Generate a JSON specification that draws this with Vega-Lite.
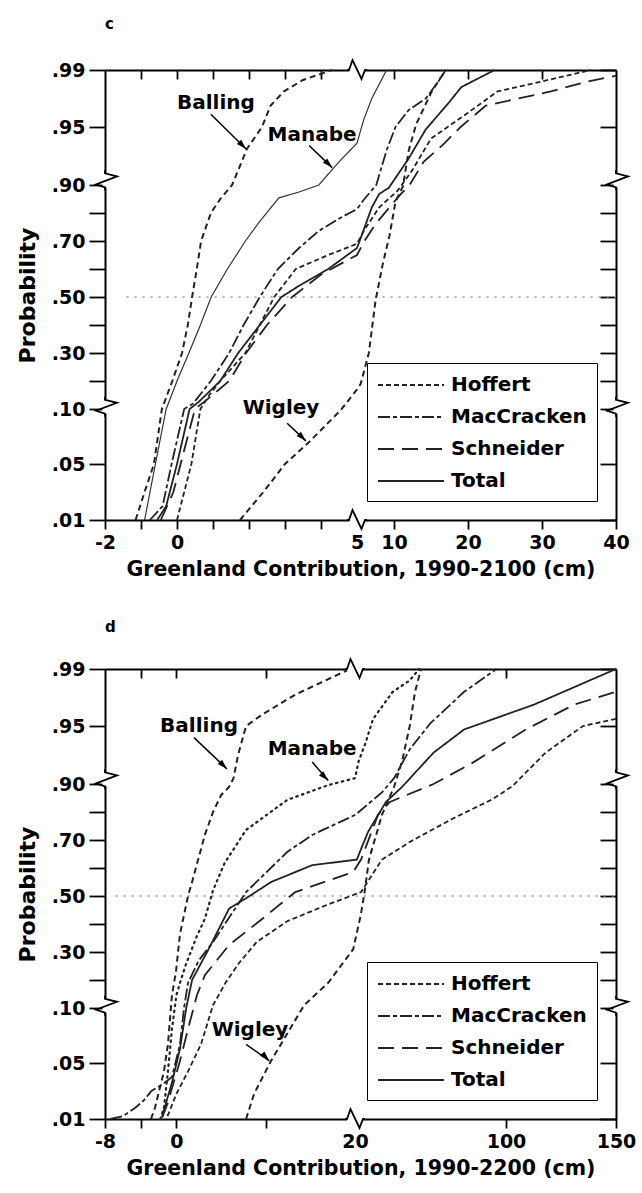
{
"$schema":"https://vega.github.io/schema/vega-lite/v6.json",
"background":"white",
"padding":{"left":16,"top":17,"right":4,"bottom":2},
"spacing":40,
"datasets":{
"curves":[
{"panel":"c","model":"Balling","x":-1.15,"p":0.01},{"panel":"c","model":"Balling","x":-0.9,"p":0.03},{"panel":"c","model":"Balling","x":-0.64,"p":0.05},{"panel":"c","model":"Balling","x":-0.42,"p":0.1},{"panel":"c","model":"Balling","x":-0.13,"p":0.2},{"panel":"c","model":"Balling","x":0.14,"p":0.3},{"panel":"c","model":"Balling","x":0.3,"p":0.4},{"panel":"c","model":"Balling","x":0.42,"p":0.5},{"panel":"c","model":"Balling","x":0.55,"p":0.6},{"panel":"c","model":"Balling","x":0.67,"p":0.7},{"panel":"c","model":"Balling","x":0.94,"p":0.8},{"panel":"c","model":"Balling","x":1.2,"p":0.85},{"panel":"c","model":"Balling","x":1.53,"p":0.9},{"panel":"c","model":"Balling","x":1.94,"p":0.931},{"panel":"c","model":"Balling","x":2.36,"p":0.95},{"panel":"c","model":"Balling","x":2.6,"p":0.965},{"panel":"c","model":"Balling","x":2.97,"p":0.975},{"panel":"c","model":"Balling","x":3.5,"p":0.983},{"panel":"c","model":"Balling","x":4.08,"p":0.988},{"panel":"c","model":"Balling","x":4.3,"p":0.99},
{"panel":"c","model":"Manabe","x":-0.9,"p":0.01},{"panel":"c","model":"Manabe","x":-0.6,"p":0.05},{"panel":"c","model":"Manabe","x":-0.3,"p":0.1},{"panel":"c","model":"Manabe","x":0.0,"p":0.2},{"panel":"c","model":"Manabe","x":0.33,"p":0.3},{"panel":"c","model":"Manabe","x":0.65,"p":0.4},{"panel":"c","model":"Manabe","x":0.95,"p":0.5},{"panel":"c","model":"Manabe","x":1.4,"p":0.6},{"panel":"c","model":"Manabe","x":1.9,"p":0.7},{"panel":"c","model":"Manabe","x":2.3,"p":0.77},{"panel":"c","model":"Manabe","x":2.83,"p":0.854},{"panel":"c","model":"Manabe","x":3.39,"p":0.875},{"panel":"c","model":"Manabe","x":3.94,"p":0.9},{"panel":"c","model":"Manabe","x":4.5,"p":0.92},{"panel":"c","model":"Manabe","x":5.0,"p":0.936},{"panel":"c","model":"Manabe","x":5.9,"p":0.955},{"panel":"c","model":"Manabe","x":7.0,"p":0.97},{"panel":"c","model":"Manabe","x":9.0,"p":0.99},
{"panel":"c","model":"Wigley","x":1.75,"p":0.01},{"panel":"c","model":"Wigley","x":2.4,"p":0.03},{"panel":"c","model":"Wigley","x":3.0,"p":0.05},{"panel":"c","model":"Wigley","x":3.64,"p":0.069},{"panel":"c","model":"Wigley","x":4.55,"p":0.099},{"panel":"c","model":"Wigley","x":5.0,"p":0.17},{"panel":"c","model":"Wigley","x":5.5,"p":0.19},{"panel":"c","model":"Wigley","x":6.6,"p":0.3},{"panel":"c","model":"Wigley","x":7.5,"p":0.486},{"panel":"c","model":"Wigley","x":8.5,"p":0.62},{"panel":"c","model":"Wigley","x":9.4,"p":0.72},{"panel":"c","model":"Wigley","x":10.2,"p":0.84},{"panel":"c","model":"Wigley","x":11.2,"p":0.895},{"panel":"c","model":"Wigley","x":12,"p":0.93},{"panel":"c","model":"Wigley","x":13,"p":0.952},{"panel":"c","model":"Wigley","x":15.1,"p":0.975},{"panel":"c","model":"Wigley","x":17,"p":0.99},
{"panel":"c","model":"Hoffert","x":0.0,"p":0.01},{"panel":"c","model":"Hoffert","x":0.2,"p":0.03},{"panel":"c","model":"Hoffert","x":0.4,"p":0.05},{"panel":"c","model":"Hoffert","x":0.65,"p":0.1},{"panel":"c","model":"Hoffert","x":0.9,"p":0.15},{"panel":"c","model":"Hoffert","x":1.2,"p":0.2},{"panel":"c","model":"Hoffert","x":1.9,"p":0.3},{"panel":"c","model":"Hoffert","x":2.3,"p":0.4},{"panel":"c","model":"Hoffert","x":2.7,"p":0.5},{"panel":"c","model":"Hoffert","x":3.3,"p":0.6},{"panel":"c","model":"Hoffert","x":4.2,"p":0.65},{"panel":"c","model":"Hoffert","x":5.0,"p":0.69},{"panel":"c","model":"Hoffert","x":6.0,"p":0.74},{"panel":"c","model":"Hoffert","x":8.0,"p":0.82},{"panel":"c","model":"Hoffert","x":10.5,"p":0.88},{"panel":"c","model":"Hoffert","x":12.4,"p":0.912},{"panel":"c","model":"Hoffert","x":15,"p":0.94},{"panel":"c","model":"Hoffert","x":20,"p":0.96},{"panel":"c","model":"Hoffert","x":24,"p":0.975},{"panel":"c","model":"Hoffert","x":30,"p":0.982},{"panel":"c","model":"Hoffert","x":36.6,"p":0.99},
{"panel":"c","model":"MacCracken","x":-0.75,"p":0.01},{"panel":"c","model":"MacCracken","x":-0.4,"p":0.02},{"panel":"c","model":"MacCracken","x":-0.15,"p":0.05},{"panel":"c","model":"MacCracken","x":0.2,"p":0.1},{"panel":"c","model":"MacCracken","x":0.45,"p":0.12},{"panel":"c","model":"MacCracken","x":0.94,"p":0.2},{"panel":"c","model":"MacCracken","x":1.45,"p":0.3},{"panel":"c","model":"MacCracken","x":1.85,"p":0.4},{"panel":"c","model":"MacCracken","x":2.3,"p":0.5},{"panel":"c","model":"MacCracken","x":2.8,"p":0.6},{"panel":"c","model":"MacCracken","x":3.39,"p":0.675},{"panel":"c","model":"MacCracken","x":3.94,"p":0.736},{"panel":"c","model":"MacCracken","x":4.5,"p":0.78},{"panel":"c","model":"MacCracken","x":5.0,"p":0.814},{"panel":"c","model":"MacCracken","x":6.0,"p":0.85},{"panel":"c","model":"MacCracken","x":7.6,"p":0.9},{"panel":"c","model":"MacCracken","x":9.0,"p":0.93},{"panel":"c","model":"MacCracken","x":10.2,"p":0.95},{"panel":"c","model":"MacCracken","x":12,"p":0.962},{"panel":"c","model":"MacCracken","x":14.3,"p":0.97},{"panel":"c","model":"MacCracken","x":16,"p":0.982},{"panel":"c","model":"MacCracken","x":17,"p":0.99},
{"panel":"c","model":"Total","x":-0.55,"p":0.01},{"panel":"c","model":"Total","x":-0.3,"p":0.02},{"panel":"c","model":"Total","x":0.0,"p":0.05},{"panel":"c","model":"Total","x":0.35,"p":0.1},{"panel":"c","model":"Total","x":0.6,"p":0.125},{"panel":"c","model":"Total","x":1.2,"p":0.2},{"panel":"c","model":"Total","x":1.7,"p":0.3},{"panel":"c","model":"Total","x":2.3,"p":0.4},{"panel":"c","model":"Total","x":2.9,"p":0.5},{"panel":"c","model":"Total","x":3.39,"p":0.54},{"panel":"c","model":"Total","x":4.2,"p":0.6},{"panel":"c","model":"Total","x":5.0,"p":0.675},{"panel":"c","model":"Total","x":5.7,"p":0.725},{"panel":"c","model":"Total","x":7.0,"p":0.82},{"panel":"c","model":"Total","x":8.0,"p":0.868},{"panel":"c","model":"Total","x":9.3,"p":0.89},{"panel":"c","model":"Total","x":12,"p":0.923},{"panel":"c","model":"Total","x":14.3,"p":0.948},{"panel":"c","model":"Total","x":17.4,"p":0.967},{"panel":"c","model":"Total","x":19.1,"p":0.978},{"panel":"c","model":"Total","x":23.6,"p":0.99},
{"panel":"c","model":"Schneider","x":-0.45,"p":0.01},{"panel":"c","model":"Schneider","x":-0.1,"p":0.03},{"panel":"c","model":"Schneider","x":0.1,"p":0.05},{"panel":"c","model":"Schneider","x":0.5,"p":0.1},{"panel":"c","model":"Schneider","x":0.8,"p":0.13},{"panel":"c","model":"Schneider","x":1.45,"p":0.2},{"panel":"c","model":"Schneider","x":1.92,"p":0.3},{"panel":"c","model":"Schneider","x":2.5,"p":0.4},{"panel":"c","model":"Schneider","x":3.2,"p":0.5},{"panel":"c","model":"Schneider","x":4.0,"p":0.58},{"panel":"c","model":"Schneider","x":5.0,"p":0.65},{"panel":"c","model":"Schneider","x":6.0,"p":0.7},{"panel":"c","model":"Schneider","x":7.5,"p":0.76},{"panel":"c","model":"Schneider","x":9.7,"p":0.83},{"panel":"c","model":"Schneider","x":11,"p":0.87},{"panel":"c","model":"Schneider","x":12,"p":0.895},{"panel":"c","model":"Schneider","x":14,"p":0.92},{"panel":"c","model":"Schneider","x":16.5,"p":0.934},{"panel":"c","model":"Schneider","x":19,"p":0.95},{"panel":"c","model":"Schneider","x":22.4,"p":0.965},{"panel":"c","model":"Schneider","x":26.8,"p":0.97},{"panel":"c","model":"Schneider","x":31.2,"p":0.975},{"panel":"c","model":"Schneider","x":36.2,"p":0.982},{"panel":"c","model":"Schneider","x":40,"p":0.986},
{"panel":"d","model":"Balling","x":-2.85,"p":0.01},{"panel":"d","model":"Balling","x":-2.4,"p":0.018},{"panel":"d","model":"Balling","x":-1.4,"p":0.044},{"panel":"d","model":"Balling","x":-0.95,"p":0.067},{"panel":"d","model":"Balling","x":-0.5,"p":0.146},{"panel":"d","model":"Balling","x":-0.05,"p":0.23},{"panel":"d","model":"Balling","x":0.4,"p":0.365},{"panel":"d","model":"Balling","x":1.3,"p":0.5},{"panel":"d","model":"Balling","x":1.75,"p":0.55},{"panel":"d","model":"Balling","x":3.2,"p":0.72},{"panel":"d","model":"Balling","x":4.1,"p":0.8},{"panel":"d","model":"Balling","x":5.0,"p":0.86},{"panel":"d","model":"Balling","x":5.9,"p":0.89},{"panel":"d","model":"Balling","x":6.4,"p":0.905},{"panel":"d","model":"Balling","x":6.9,"p":0.925},{"panel":"d","model":"Balling","x":7.8,"p":0.95},{"panel":"d","model":"Balling","x":9.6,"p":0.958},{"panel":"d","model":"Balling","x":13.3,"p":0.972},{"panel":"d","model":"Balling","x":18.4,"p":0.987},{"panel":"d","model":"Balling","x":19.5,"p":0.99},
{"panel":"d","model":"Manabe","x":-1.8,"p":0.01},{"panel":"d","model":"Manabe","x":-1.4,"p":0.018},{"panel":"d","model":"Manabe","x":-0.95,"p":0.044},{"panel":"d","model":"Manabe","x":-0.5,"p":0.081},{"panel":"d","model":"Manabe","x":0.0,"p":0.146},{"panel":"d","model":"Manabe","x":0.5,"p":0.2},{"panel":"d","model":"Manabe","x":1.0,"p":0.25},{"panel":"d","model":"Manabe","x":2.2,"p":0.35},{"panel":"d","model":"Manabe","x":3.2,"p":0.42},{"panel":"d","model":"Manabe","x":4.1,"p":0.52},{"panel":"d","model":"Manabe","x":5.4,"p":0.618},{"panel":"d","model":"Manabe","x":7.8,"p":0.736},{"panel":"d","model":"Manabe","x":12.4,"p":0.843},{"panel":"d","model":"Manabe","x":17,"p":0.896},{"panel":"d","model":"Manabe","x":20,"p":0.905},{"panel":"d","model":"Manabe","x":22,"p":0.92},{"panel":"d","model":"Manabe","x":25.5,"p":0.935},{"panel":"d","model":"Manabe","x":29.6,"p":0.955},{"panel":"d","model":"Manabe","x":40,"p":0.974},{"panel":"d","model":"Manabe","x":49,"p":0.982},{"panel":"d","model":"Manabe","x":54,"p":0.99},
{"panel":"d","model":"Wigley","x":7.8,"p":0.01},{"panel":"d","model":"Wigley","x":8.7,"p":0.028},{"panel":"d","model":"Wigley","x":10.6,"p":0.052},{"panel":"d","model":"Wigley","x":14.3,"p":0.11},{"panel":"d","model":"Wigley","x":17,"p":0.19},{"panel":"d","model":"Wigley","x":19.8,"p":0.31},{"panel":"d","model":"Wigley","x":23,"p":0.43},{"panel":"d","model":"Wigley","x":25,"p":0.51},{"panel":"d","model":"Wigley","x":27.4,"p":0.63},{"panel":"d","model":"Wigley","x":34.3,"p":0.79},{"panel":"d","model":"Wigley","x":40.7,"p":0.89},{"panel":"d","model":"Wigley","x":45,"p":0.92},{"panel":"d","model":"Wigley","x":49,"p":0.95},{"panel":"d","model":"Wigley","x":51.8,"p":0.974},{"panel":"d","model":"Wigley","x":55,"p":0.99},
{"panel":"d","model":"MacCracken","x":-7.4,"p":0.01},{"panel":"d","model":"MacCracken","x":-6,"p":0.012},{"panel":"d","model":"MacCracken","x":-4.6,"p":0.018},{"panel":"d","model":"MacCracken","x":-3.7,"p":0.023},{"panel":"d","model":"MacCracken","x":-2.8,"p":0.03},{"panel":"d","model":"MacCracken","x":-1.5,"p":0.035},{"panel":"d","model":"MacCracken","x":-0.5,"p":0.04},{"panel":"d","model":"MacCracken","x":0.4,"p":0.067},{"panel":"d","model":"MacCracken","x":0.85,"p":0.1},{"panel":"d","model":"MacCracken","x":1.3,"p":0.19},{"panel":"d","model":"MacCracken","x":2.5,"p":0.27},{"panel":"d","model":"MacCracken","x":4.1,"p":0.336},{"panel":"d","model":"MacCracken","x":7.8,"p":0.514},{"panel":"d","model":"MacCracken","x":12.4,"p":0.657},{"panel":"d","model":"MacCracken","x":15.2,"p":0.718},{"panel":"d","model":"MacCracken","x":20.2,"p":0.79},{"panel":"d","model":"MacCracken","x":34.3,"p":0.87},{"panel":"d","model":"MacCracken","x":40.7,"p":0.905},{"panel":"d","model":"MacCracken","x":49,"p":0.93},{"panel":"d","model":"MacCracken","x":60,"p":0.952},{"panel":"d","model":"MacCracken","x":77.8,"p":0.974},{"panel":"d","model":"MacCracken","x":95,"p":0.99},
{"panel":"d","model":"Total","x":-1.6,"p":0.012},{"panel":"d","model":"Total","x":-0.5,"p":0.036},{"panel":"d","model":"Total","x":0.4,"p":0.063},{"panel":"d","model":"Total","x":1.1,"p":0.1},{"panel":"d","model":"Total","x":1.75,"p":0.2},{"panel":"d","model":"Total","x":3.6,"p":0.31},{"panel":"d","model":"Total","x":5.9,"p":0.455},{"panel":"d","model":"Total","x":8.2,"p":0.5},{"panel":"d","model":"Total","x":10.6,"p":0.55},{"panel":"d","model":"Total","x":15.2,"p":0.61},{"panel":"d","model":"Total","x":21,"p":0.63},{"panel":"d","model":"Total","x":23.2,"p":0.668},{"panel":"d","model":"Total","x":27,"p":0.73},{"panel":"d","model":"Total","x":36.4,"p":0.836},{"panel":"d","model":"Total","x":45,"p":0.89},{"panel":"d","model":"Total","x":61.6,"p":0.927},{"panel":"d","model":"Total","x":77.8,"p":0.947},{"panel":"d","model":"Total","x":112.7,"p":0.965},{"panel":"d","model":"Total","x":150,"p":0.99},
{"panel":"d","model":"Schneider","x":-1.6,"p":0.011},{"panel":"d","model":"Schneider","x":-1.0,"p":0.021},{"panel":"d","model":"Schneider","x":0.4,"p":0.052},{"panel":"d","model":"Schneider","x":1.3,"p":0.081},{"panel":"d","model":"Schneider","x":2.3,"p":0.146},{"panel":"d","model":"Schneider","x":3.2,"p":0.218},{"panel":"d","model":"Schneider","x":5.9,"p":0.325},{"panel":"d","model":"Schneider","x":9.6,"p":0.418},{"panel":"d","model":"Schneider","x":13.3,"p":0.514},{"panel":"d","model":"Schneider","x":19.8,"p":0.586},{"panel":"d","model":"Schneider","x":23.2,"p":0.63},{"panel":"d","model":"Schneider","x":32.2,"p":0.79},{"panel":"d","model":"Schneider","x":38.5,"p":0.836},{"panel":"d","model":"Schneider","x":61.6,"p":0.9},{"panel":"d","model":"Schneider","x":82,"p":0.918},{"panel":"d","model":"Schneider","x":109,"p":0.947},{"panel":"d","model":"Schneider","x":131,"p":0.965},{"panel":"d","model":"Schneider","x":150,"p":0.974},
{"panel":"d","model":"Hoffert","x":-1.0,"p":0.012},{"panel":"d","model":"Hoffert","x":0.0,"p":0.028},{"panel":"d","model":"Hoffert","x":1.3,"p":0.044},{"panel":"d","model":"Hoffert","x":2.75,"p":0.067},{"panel":"d","model":"Hoffert","x":4.1,"p":0.11},{"panel":"d","model":"Hoffert","x":5.5,"p":0.19},{"panel":"d","model":"Hoffert","x":7.0,"p":0.26},{"panel":"d","model":"Hoffert","x":9.0,"p":0.336},{"panel":"d","model":"Hoffert","x":12.4,"p":0.41},{"panel":"d","model":"Hoffert","x":17,"p":0.47},{"panel":"d","model":"Hoffert","x":23.2,"p":0.514},{"panel":"d","model":"Hoffert","x":34.3,"p":0.63},{"panel":"d","model":"Hoffert","x":49,"p":0.693},{"panel":"d","model":"Hoffert","x":71.4,"p":0.775},{"panel":"d","model":"Hoffert","x":93,"p":0.846},{"panel":"d","model":"Hoffert","x":103,"p":0.893},{"panel":"d","model":"Hoffert","x":118,"p":0.927},{"panel":"d","model":"Hoffert","x":135,"p":0.95},{"panel":"d","model":"Hoffert","x":150,"p":0.955}
],
"notes":[
{"panel":"c","label":"Balling","x":1.08,"p":0.967},{"panel":"c","label":"Manabe","x":3.75,"p":0.943},{"panel":"c","label":"Wigley","x":2.89,"p":0.102},
{"panel":"d","label":"Balling","x":2.53,"p":0.95},{"panel":"d","label":"Manabe","x":15.2,"p":0.93},{"panel":"d","label":"Wigley","x":8.24,"p":0.08}
],
"arrows":[
{"panel":"c","id":"Balling","end":"tail","x":0.94,"p":0.959},{"panel":"c","id":"Balling","end":"head","x":1.92,"p":0.931},
{"panel":"c","id":"Manabe","end":"tail","x":3.67,"p":0.934},{"panel":"c","id":"Manabe","end":"head","x":4.31,"p":0.915},
{"panel":"c","id":"Wigley","end":"tail","x":3.06,"p":0.087},{"panel":"c","id":"Wigley","end":"head","x":3.58,"p":0.071},
{"panel":"d","id":"Balling","end":"tail","x":1.97,"p":0.94},{"panel":"d","id":"Balling","end":"head","x":5.66,"p":0.913},
{"panel":"d","id":"Manabe","end":"tail","x":15.2,"p":0.919},{"panel":"d","id":"Manabe","end":"head","x":17.0,"p":0.903},
{"panel":"d","id":"Wigley","end":"tail","x":7.8,"p":0.067},{"panel":"d","id":"Wigley","end":"head","x":10.4,"p":0.052}
],
"breaks":[
{"panel":"c","dir":"h","x":5,"p":0.01},{"panel":"c","dir":"h","x":5,"p":0.99},
{"panel":"c","dir":"v","x":-2,"p":0.904},{"panel":"c","dir":"v","x":40,"p":0.904},{"panel":"c","dir":"v","x":-2,"p":0.108},{"panel":"c","dir":"v","x":40,"p":0.108},
{"panel":"d","dir":"h","x":20,"p":0.01},{"panel":"d","dir":"h","x":20,"p":0.99},
{"panel":"d","dir":"v","x":-8,"p":0.904},{"panel":"d","dir":"v","x":150,"p":0.904},{"panel":"d","dir":"v","x":-8,"p":0.108},{"panel":"d","dir":"v","x":150,"p":0.108}
]
},
"config":{
"font":"DejaVu Sans",
"view":{"stroke":null},
"axis":{"grid":false,"domainColor":"black","domainWidth":2,"tickColor":"black","tickWidth":1.8,"labelFont":"DejaVu Sans","labelFontWeight":"bold","labelFontSize":19,"labelColor":"black","titleFont":"DejaVu Sans","titleFontWeight":"bold","titleFontSize":20.5,"titleColor":"black","labelOverlap":false,"labelFlush":false},
"legend":{"orient":"none","legendX":262,"legendY":293,"title":null,"strokeColor":"black","fillColor":"white","padding":10,"symbolType":"M -1 0 L 5 0","symbolSize":484,"symbolStrokeWidth":2,"symbolStrokeColor":"#222","labelFont":"DejaVu Sans","labelFontWeight":"bold","labelFontSize":20,"labelColor":"black","labelOffset":50,"rowPadding":10,"labelLimit":0}
},
"resolve":{"scale":{"x":"independent","y":"independent","strokeDash":"independent"},"legend":{"strokeDash":"independent"}},
"vconcat":[
{
"width":511,"height":450,
"title":{"text":"c","anchor":"start","frame":"group","offset":24,"fontSize":15,"fontWeight":"bold","font":"DejaVu Sans","color":"black"},
"resolve":{"axis":{"x":"independent","y":"independent"}},
"layer":[
{"data":{"values":[{"x":-1.4,"x2":40,"p":0.5}]},
"mark":{"type":"rule","strokeDash":[2,6],"color":"#999","strokeWidth":1.5},
"encoding":{
"x":{"field":"x","type":"quantitative","scale":{"domain":[-2,5,40],"range":[0,252,511],"nice":false,"zero":false},"axis":{"orient":"top","values":[-1,0,1,2,3,4,10,20,30],"labels":false,"tickSize":-9,"title":null}},
"x2":{"field":"x2"},
"y":{"field":"p","type":"quantitative","scale":{"domain":[0.01,0.05,0.1,0.9,0.95,0.99],"range":[450,394,339,115,57,0],"nice":false,"zero":false},"axis":{"orient":"right","values":[0.01,0.05,0.1,0.2,0.3,0.4,0.5,0.6,0.7,0.8,0.9,0.95,0.99],"labels":false,"tickSize":-16,"title":null}}
}},
{"data":{"name":"curves"},"transform":[{"filter":"datum.panel=='c' && indexof(['Hoffert','MacCracken','Schneider','Total'],datum.model)>=0"}],
"mark":{"type":"line","color":"#222","strokeWidth":1.8},
"encoding":{
"x":{"field":"x","type":"quantitative","scale":{"domain":[-2,5,40],"range":[0,252,511],"nice":false,"zero":false},"axis":{"orient":"bottom","values":[-2,-1,0,1,2,3,4,5,10,20,30,40],"labelExpr":"indexof([-2,0,5,10,20,30,40], datum.value) >= 0 ? '' + datum.value : ''","tickSize":9,"labelPadding":4,"title":"Greenland Contribution, 1990-2100 (cm)","titlePadding":7,"tickOpacity":{"condition":{"test":"datum.value == 5","value":0},"value":1}}},
"y":{"field":"p","type":"quantitative","scale":{"domain":[0.01,0.05,0.1,0.9,0.95,0.99],"range":[450,394,339,115,57,0],"nice":false,"zero":false},"axis":{"orient":"left","values":[0.01,0.05,0.1,0.2,0.3,0.4,0.5,0.6,0.7,0.8,0.9,0.95,0.99],"labelExpr":"(datum.value==0.2||datum.value==0.4||datum.value==0.6||datum.value==0.8) ? '' : replace(format(datum.value,'.2f'),'0.','.')","tickSize":16,"labelPadding":4,"title":"Probability","titlePadding":12,"titleFontSize":22}},
"strokeDash":{"field":"model","type":"nominal","scale":{"domain":["Hoffert","MacCracken","Schneider","Total"],"range":[[5,3],[12,3,4,3],[16,8],[1,0]]},"legend":{"title":null}}
}},
{"data":{"name":"curves"},"transform":[{"filter":"datum.panel=='c' && (datum.model=='Balling' || datum.model=='Wigley')"}],
"mark":{"type":"line","color":"#222","strokeWidth":2,"strokeDash":[6,4]},
"encoding":{"x":{"field":"x","type":"quantitative","axis":null},"y":{"field":"p","type":"quantitative","axis":null},"detail":{"field":"model"}}},
{"data":{"name":"curves"},"transform":[{"filter":"datum.panel=='c' && datum.model=='Manabe'"}],
"mark":{"type":"line","color":"#333","strokeWidth":1.2},
"encoding":{"x":{"field":"x","type":"quantitative","axis":null},"y":{"field":"p","type":"quantitative","axis":null}}},
{"data":{"name":"arrows"},"transform":[{"filter":"datum.panel=='c'"}],
"mark":{"type":"line","color":"black","strokeWidth":1.5},
"encoding":{"x":{"field":"x","type":"quantitative","axis":null},"y":{"field":"p","type":"quantitative","axis":null},"detail":{"field":"id"}}},
{"data":{"name":"arrows"},"transform":[{"filter":"datum.panel=='c' && datum.end=='head'"}],
"mark":{"type":"point","shape":"M 0 0 L 0.6 2 L -0.6 2 Z","filled":true,"color":"black","opacity":1,"size":100,"angle":135},
"encoding":{"x":{"field":"x","type":"quantitative","axis":null},"y":{"field":"p","type":"quantitative","axis":null}}},
{"data":{"name":"notes"},"transform":[{"filter":"datum.panel=='c'"}],
"mark":{"type":"text","font":"DejaVu Sans","fontWeight":"bold","fontSize":20,"color":"black","align":"center","baseline":"middle"},
"encoding":{"x":{"field":"x","type":"quantitative","axis":null},"y":{"field":"p","type":"quantitative","axis":null},"text":{"field":"label"}}},
{"data":{"name":"breaks"},"transform":[{"filter":"datum.panel=='c' && datum.dir=='h'"}],
"mark":{"type":"point","shape":"M -0.8 0 L 0.8 0","filled":false,"stroke":"white","strokeWidth":5,"opacity":1,"size":400},
"encoding":{"x":{"field":"x","type":"quantitative","axis":null},"y":{"field":"p","type":"quantitative","axis":null}}},
{"data":{"name":"breaks"},"transform":[{"filter":"datum.panel=='c' && datum.dir=='v'"}],
"mark":{"type":"point","shape":"M 0 -0.7 L 0 0.7","filled":false,"stroke":"white","strokeWidth":5,"opacity":1,"size":400},
"encoding":{"x":{"field":"x","type":"quantitative","axis":null},"y":{"field":"p","type":"quantitative","axis":null}}},
{"data":{"name":"breaks"},"transform":[{"filter":"datum.panel=='c' && datum.dir=='h'"}],
"mark":{"type":"point","shape":"M -1 0 L -0.8 0 L -0.45 -1 L 0.45 0.9 L 0.8 0 L 1 0","filled":false,"stroke":"black","strokeWidth":1.8,"opacity":1,"size":400},
"encoding":{"x":{"field":"x","type":"quantitative","axis":null},"y":{"field":"p","type":"quantitative","axis":null}}},
{"data":{"name":"breaks"},"transform":[{"filter":"datum.panel=='c' && datum.dir=='v'"}],
"mark":{"type":"point","shape":"M 0 -1 L 0 -0.7 L 1.2 -0.4 L -0.9 0.4 L 0 0.7 L 0 1","filled":false,"stroke":"black","strokeWidth":1.8,"opacity":1,"size":400},
"encoding":{"x":{"field":"x","type":"quantitative","axis":null},"y":{"field":"p","type":"quantitative","axis":null}}}
]
},
{
"width":511,"height":450,
"title":{"text":"d","anchor":"start","frame":"group","offset":20,"fontSize":15,"fontWeight":"bold","font":"DejaVu Sans","color":"black"},
"resolve":{"axis":{"x":"independent","y":"independent"}},
"layer":[
{"data":{"values":[{"x":-6.8,"x2":150,"p":0.5}]},
"mark":{"type":"rule","strokeDash":[2,6],"color":"#999","strokeWidth":1.5},
"encoding":{
"x":{"field":"x","type":"quantitative","scale":{"domain":[-8,20,100,150],"range":[0,250,401,511],"nice":false,"zero":false},"axis":{"orient":"top","values":[-4,0,10,100],"labels":false,"tickSize":-9,"title":null}},
"x2":{"field":"x2"},
"y":{"field":"p","type":"quantitative","scale":{"domain":[0.01,0.05,0.1,0.9,0.95,0.99],"range":[450,394,339,115,57,0],"nice":false,"zero":false},"axis":{"orient":"right","values":[0.01,0.05,0.1,0.2,0.3,0.4,0.5,0.6,0.7,0.8,0.9,0.95,0.99],"labels":false,"tickSize":-16,"title":null}}
}},
{"data":{"name":"curves"},"transform":[{"filter":"datum.panel=='d' && indexof(['Hoffert','MacCracken','Schneider','Total'],datum.model)>=0"}],
"mark":{"type":"line","color":"#222","strokeWidth":1.8},
"encoding":{
"x":{"field":"x","type":"quantitative","scale":{"domain":[-8,20,100,150],"range":[0,250,401,511],"nice":false,"zero":false},"axis":{"orient":"bottom","values":[-8,-4,0,10,20,100,150],"labelExpr":"indexof([-8,0,20,100,150], datum.value) >= 0 ? '' + datum.value : ''","tickSize":9,"labelPadding":4,"title":"Greenland Contribution, 1990-2200 (cm)","titlePadding":7,"tickOpacity":{"condition":{"test":"datum.value == 20","value":0},"value":1}}},
"y":{"field":"p","type":"quantitative","scale":{"domain":[0.01,0.05,0.1,0.9,0.95,0.99],"range":[450,394,339,115,57,0],"nice":false,"zero":false},"axis":{"orient":"left","values":[0.01,0.05,0.1,0.2,0.3,0.4,0.5,0.6,0.7,0.8,0.9,0.95,0.99],"labelExpr":"(datum.value==0.2||datum.value==0.4||datum.value==0.6||datum.value==0.8) ? '' : replace(format(datum.value,'.2f'),'0.','.')","tickSize":16,"labelPadding":4,"title":"Probability","titlePadding":12,"titleFontSize":22}},
"strokeDash":{"field":"model","type":"nominal","scale":{"domain":["Hoffert","MacCracken","Schneider","Total"],"range":[[5,3],[12,3,4,3],[16,8],[1,0]]},"legend":{"title":null}}
}},
{"data":{"name":"curves"},"transform":[{"filter":"datum.panel=='d' && (datum.model=='Balling' || datum.model=='Wigley')"}],
"mark":{"type":"line","color":"#222","strokeWidth":2,"strokeDash":[6,4]},
"encoding":{"x":{"field":"x","type":"quantitative","axis":null},"y":{"field":"p","type":"quantitative","axis":null},"detail":{"field":"model"}}},
{"data":{"name":"curves"},"transform":[{"filter":"datum.panel=='d' && datum.model=='Manabe'"}],
"mark":{"type":"line","color":"#222","strokeWidth":2.2,"strokeDash":[1.5,4.5],"strokeCap":"round"},
"encoding":{"x":{"field":"x","type":"quantitative","axis":null},"y":{"field":"p","type":"quantitative","axis":null}}},
{"data":{"name":"arrows"},"transform":[{"filter":"datum.panel=='d'"}],
"mark":{"type":"line","color":"black","strokeWidth":1.5},
"encoding":{"x":{"field":"x","type":"quantitative","axis":null},"y":{"field":"p","type":"quantitative","axis":null},"detail":{"field":"id"}}},
{"data":{"name":"arrows"},"transform":[{"filter":"datum.panel=='d' && datum.end=='head'"}],
"mark":{"type":"point","shape":"M 0 0 L 0.6 2 L -0.6 2 Z","filled":true,"color":"black","opacity":1,"size":100,"angle":135},
"encoding":{"x":{"field":"x","type":"quantitative","axis":null},"y":{"field":"p","type":"quantitative","axis":null}}},
{"data":{"name":"notes"},"transform":[{"filter":"datum.panel=='d'"}],
"mark":{"type":"text","font":"DejaVu Sans","fontWeight":"bold","fontSize":20,"color":"black","align":"center","baseline":"middle"},
"encoding":{"x":{"field":"x","type":"quantitative","axis":null},"y":{"field":"p","type":"quantitative","axis":null},"text":{"field":"label"}}},
{"data":{"name":"breaks"},"transform":[{"filter":"datum.panel=='d' && datum.dir=='h'"}],
"mark":{"type":"point","shape":"M -0.8 0 L 0.8 0","filled":false,"stroke":"white","strokeWidth":5,"opacity":1,"size":400},
"encoding":{"x":{"field":"x","type":"quantitative","axis":null},"y":{"field":"p","type":"quantitative","axis":null}}},
{"data":{"name":"breaks"},"transform":[{"filter":"datum.panel=='d' && datum.dir=='v'"}],
"mark":{"type":"point","shape":"M 0 -0.7 L 0 0.7","filled":false,"stroke":"white","strokeWidth":5,"opacity":1,"size":400},
"encoding":{"x":{"field":"x","type":"quantitative","axis":null},"y":{"field":"p","type":"quantitative","axis":null}}},
{"data":{"name":"breaks"},"transform":[{"filter":"datum.panel=='d' && datum.dir=='h'"}],
"mark":{"type":"point","shape":"M -1 0 L -0.8 0 L -0.45 -1 L 0.45 0.9 L 0.8 0 L 1 0","filled":false,"stroke":"black","strokeWidth":1.8,"opacity":1,"size":400},
"encoding":{"x":{"field":"x","type":"quantitative","axis":null},"y":{"field":"p","type":"quantitative","axis":null}}},
{"data":{"name":"breaks"},"transform":[{"filter":"datum.panel=='d' && datum.dir=='v'"}],
"mark":{"type":"point","shape":"M 0 -1 L 0 -0.7 L 1.2 -0.4 L -0.9 0.4 L 0 0.7 L 0 1","filled":false,"stroke":"black","strokeWidth":1.8,"opacity":1,"size":400},
"encoding":{"x":{"field":"x","type":"quantitative","axis":null},"y":{"field":"p","type":"quantitative","axis":null}}}
]
}
]
}
